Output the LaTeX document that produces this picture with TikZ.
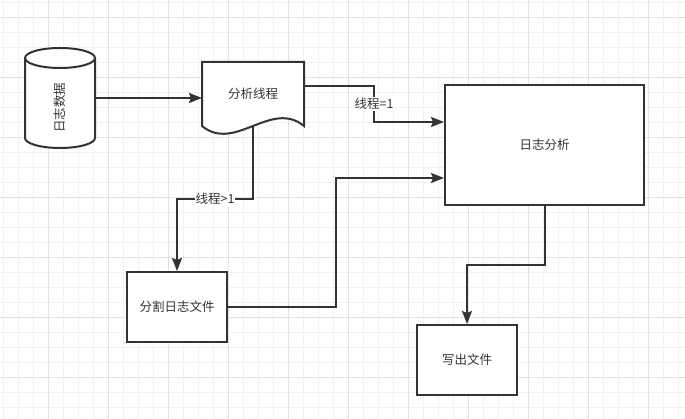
\documentclass[tikz,border=0pt]{standalone}
\usepackage{fontspec}
\setmainfont{Noto Sans CJK SC}
\usepackage{tikz}
\usetikzlibrary{arrows.meta}
\definecolor{linea}{HTML}{333333}
\definecolor{rejilla}{HTML}{F1F1F1}
\definecolor{rejillamayor}{HTML}{E2E2E2}
\tikzstyle{texto} = [text=linea, font=\fontsize{12.5}{14}\selectfont]
\tikzstyle{proceso} = [texto, draw=linea, fill=white, line width=2pt, rectangle, minimum width=100pt, minimum height=70pt]
\tikzstyle{documento} = [texto, rectangle, minimum width=100pt, minimum height=62pt, outer sep=1pt]
\tikzstyle{datos} = [rectangle, minimum width=70pt, minimum height=100pt, outer sep=0pt]
\tikzstyle{contorno} = [draw=linea, fill=white, line width=2pt]
\tikzstyle{flecha} = [draw=linea, line width=2pt, -{Stealth[length=13pt, width=10pt, inset=2pt]}]
\tikzstyle{etiqueta} = [texto, fill=white, inner sep=1pt]

\begin{document}
\begin{tikzpicture}[x=1pt,y=1pt]
	% fondo con rejilla
	\useasboundingbox (0,0) rectangle (685,419);
	\fill[white] (0,0) rectangle (685,419);
	\foreach \x in {2.7,17.7,...,685} \draw[rejilla] (\x,0) -- (\x,419);
	\foreach \y in {12,27,...,419} \draw[rejilla] (0,\y) -- (685,\y);
	\foreach \x in {47.7,107.7,...,685} \draw[rejillamayor] (\x,0) -- (\x,419);
	\foreach \y in {42,102,...,419} \draw[rejillamayor] (0,\y) -- (685,\y);

	% nodos
	\node[datos] (db) at (60,321) {};
	\draw[contorno] ([yshift=-10pt]db.north west) -- ([yshift=10pt]db.south west)
		arc[start angle=180, end angle=360, x radius=35pt, y radius=10pt] -- ([yshift=-10pt]db.north east)
		arc[start angle=0, end angle=180, x radius=35pt, y radius=10pt] -- cycle;
	\draw[contorno, fill=none] ([yshift=-10pt]db.north west) arc[start angle=180, end angle=360, x radius=35pt, y radius=10pt];
	\node[texto, rotate=90] (dbtexto) at (60,311) {日志数据};
	\node[documento] (hilo) at (253,325) {};
	\draw[contorno] (hilo.south west) -- (hilo.north west) -- (hilo.north east) -- (hilo.south east)
		.. controls +(-33,27) and +(33,-27) .. (hilo.south west) -- cycle;
	\node[texto] (hilotexto) at (hilo.center) {分析线程};
	\node[proceso, minimum width=199pt, minimum height=120pt] (analisis) at (544.5,274) {日志分析};
	\node[proceso] (division) at (177,112) {分割日志文件};
	\node[proceso] (salida) at (467,59) {写出文件};
	\coordinate (entrada1) at ([yshift=23pt]analisis.west);
	\coordinate (entrada2) at ([yshift=-33pt]analisis.west);

	% conexiones
	\draw[flecha] (db.east) -- (db.east -| hilo.west);
	\draw[flecha] ([yshift=8pt]hilo.east) -| ++(70,-18) node[etiqueta] {线程=1} |- (entrada1);
	\draw[flecha] (hilo.south) |- ++(-38,-73) node[etiqueta] {线程>1} -| (division.north);
	\draw[flecha] (division.east) -- ++(108,0) |- (entrada2);
	\draw[flecha] (analisis.south) -- ++(0,-59) -| (salida.north);
\end{tikzpicture}
\end{document}
